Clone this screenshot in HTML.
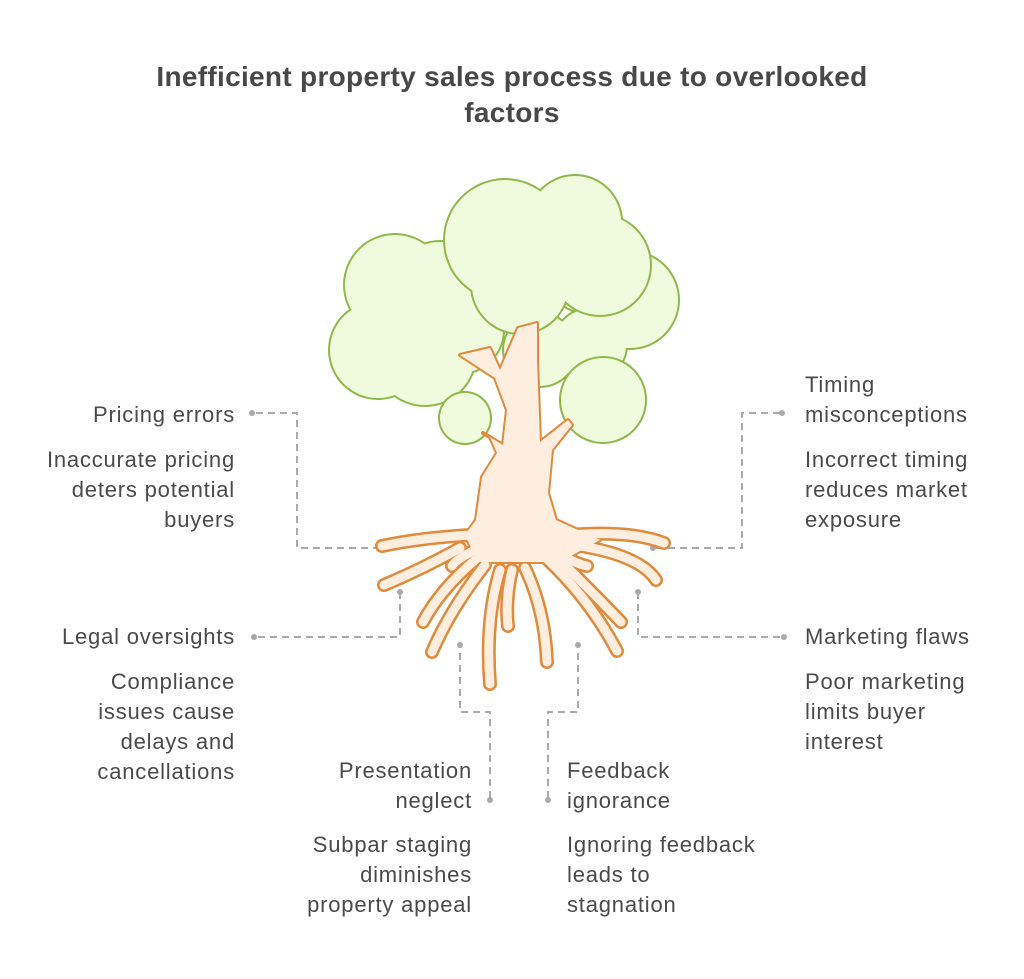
<!DOCTYPE html>
<html><head><meta charset="utf-8"><style>
body{margin:0;background:#fff;}
#c{position:relative;width:1024px;height:979px;overflow:hidden;font-family:"Liberation Sans",sans-serif;color:#4a4a4a;}
.t{position:absolute;font-size:22px;line-height:30px;letter-spacing:0.8px;}
.r{text-align:right;}
h1{position:absolute;left:0;width:1024px;top:59px;margin:0;text-align:center;font-size:28px;line-height:36px;font-weight:bold;color:#484848;letter-spacing:0.3px;}
</style></head><body><div id="c">
<svg width="1024" height="979" style="position:absolute;left:0;top:0">
<g stroke="#aaa" stroke-width="2" fill="none" stroke-dasharray="7,5">
<path d="M256 413H297V548H382"/>
<path d="M780 413H742V548H653"/>
<path d="M258 637H400V592"/>
<path d="M780 637H638V592"/>
<path d="M490 798V712H460V645"/>
<path d="M548 798V712H578V645"/>
</g>
<g fill="#aaa"><circle cx="252" cy="413" r="3"/><circle cx="782" cy="413" r="3"/><circle cx="382" cy="548" r="3"/><circle cx="653" cy="548" r="3"/><circle cx="254" cy="637" r="3"/><circle cx="784" cy="637" r="3"/><circle cx="400" cy="592" r="3"/><circle cx="638" cy="592" r="3"/><circle cx="490" cy="800" r="3"/><circle cx="548" cy="800" r="3"/><circle cx="460" cy="645" r="3"/><circle cx="578" cy="645" r="3"/></g>
<g fill="#8fb84a"><circle cx="590" cy="265" r="50"/><circle cx="630" cy="300" r="50"/><circle cx="540" cy="350" r="38"/><circle cx="590" cy="345" r="38"/></g>
<g fill="#effbdc"><circle cx="590" cy="265" r="48"/><circle cx="630" cy="300" r="48"/><circle cx="540" cy="350" r="36"/><circle cx="590" cy="345" r="36"/></g>
<g fill="#8fb84a"><circle cx="395" cy="285" r="52"/><circle cx="440" cy="290" r="50"/><circle cx="378" cy="350" r="50"/><circle cx="425" cy="355" r="52"/><circle cx="460" cy="330" r="45"/></g>
<g fill="#effbdc"><circle cx="395" cy="285" r="50"/><circle cx="440" cy="290" r="48"/><circle cx="378" cy="350" r="48"/><circle cx="425" cy="355" r="50"/><circle cx="460" cy="330" r="43"/></g>
<g fill="#8fb84a"><circle cx="505" cy="240" r="62"/><circle cx="575" cy="222" r="48"/><circle cx="600" cy="265" r="52"/><circle cx="520" cy="285" r="50"/></g>
<g fill="#effbdc"><circle cx="505" cy="240" r="60"/><circle cx="575" cy="222" r="46"/><circle cx="600" cy="265" r="50"/><circle cx="520" cy="285" r="48"/></g>
<g fill="#8fb84a"><circle cx="465" cy="418" r="27"/><circle cx="603" cy="400" r="44"/></g>
<g fill="#effbdc"><circle cx="465" cy="418" r="25"/><circle cx="603" cy="400" r="42"/></g>
<g fill="none" stroke-linecap="round" stroke-linejoin="round">
<g stroke="#e08a3c" stroke-width="14">
<path d="M470 535 Q420 538 382 546"/><path d="M460 548 Q420 570 384 585"/><path d="M475 560 Q440 590 423 622"/><path d="M485 565 Q450 610 432 652"/><path d="M500 570 Q485 620 490 684"/><path d="M512 570 Q505 600 508 626"/><path d="M525 568 Q545 610 547 662"/><path d="M548 560 Q590 600 617 651"/><path d="M560 560 Q600 600 621 622"/><path d="M575 545 Q640 555 656 580"/><path d="M570 535 Q630 530 664 543"/><path d="M560 555 Q580 565 587 566"/><path d="M475 550 Q455 560 452 566"/>
</g>
<path d="M460 355L490 348L500 370L518 328L537 323L537 360L540 442L568 420L572 425L552 450L548 493L556 520L600 540L560 562L478 562L465 535L476 520L482 477L497 453L490 437L483 433L503 445L507 410L495 378Z" fill="#e08a3c" stroke="#e08a3c" stroke-width="4"/>
<g stroke="#fdeee0" stroke-width="9">
<path d="M470 535 Q420 538 382 546"/><path d="M460 548 Q420 570 384 585"/><path d="M475 560 Q440 590 423 622"/><path d="M485 565 Q450 610 432 652"/><path d="M500 570 Q485 620 490 684"/><path d="M512 570 Q505 600 508 626"/><path d="M525 568 Q545 610 547 662"/><path d="M548 560 Q590 600 617 651"/><path d="M560 560 Q600 600 621 622"/><path d="M575 545 Q640 555 656 580"/><path d="M570 535 Q630 530 664 543"/><path d="M560 555 Q580 565 587 566"/><path d="M475 550 Q455 560 452 566"/>
</g>
<path d="M460 355L490 348L500 370L518 328L537 323L537 360L540 442L568 420L572 425L552 450L548 493L556 520L600 540L560 562L478 562L465 535L476 520L482 477L497 453L490 437L483 433L503 445L507 410L495 378Z" fill="#fdeee0" stroke="none"/>
</g>
</svg>
<h1>Inefficient property sales process due to overlooked<br>factors</h1>
<div class="t r" style="right:789px;top:400px">Pricing errors</div>
<div class="t r" style="right:789px;top:445px">Inaccurate pricing<br>deters potential<br>buyers</div>
<div class="t r" style="right:789px;top:622px">Legal oversights</div>
<div class="t r" style="right:789px;top:667px">Compliance<br>issues cause<br>delays and<br>cancellations</div>
<div class="t" style="left:805px;top:370px">Timing<br>misconceptions</div>
<div class="t" style="left:805px;top:445px">Incorrect timing<br>reduces market<br>exposure</div>
<div class="t" style="left:805px;top:622px">Marketing flaws</div>
<div class="t" style="left:805px;top:667px">Poor marketing<br>limits buyer<br>interest</div>
<div class="t r" style="right:552px;top:756px">Presentation<br>neglect</div>
<div class="t r" style="right:552px;top:830px">Subpar staging<br>diminishes<br>property appeal</div>
<div class="t" style="left:567px;top:756px">Feedback<br>ignorance</div>
<div class="t" style="left:567px;top:830px">Ignoring feedback<br>leads to<br>stagnation</div>
</div></body></html>
